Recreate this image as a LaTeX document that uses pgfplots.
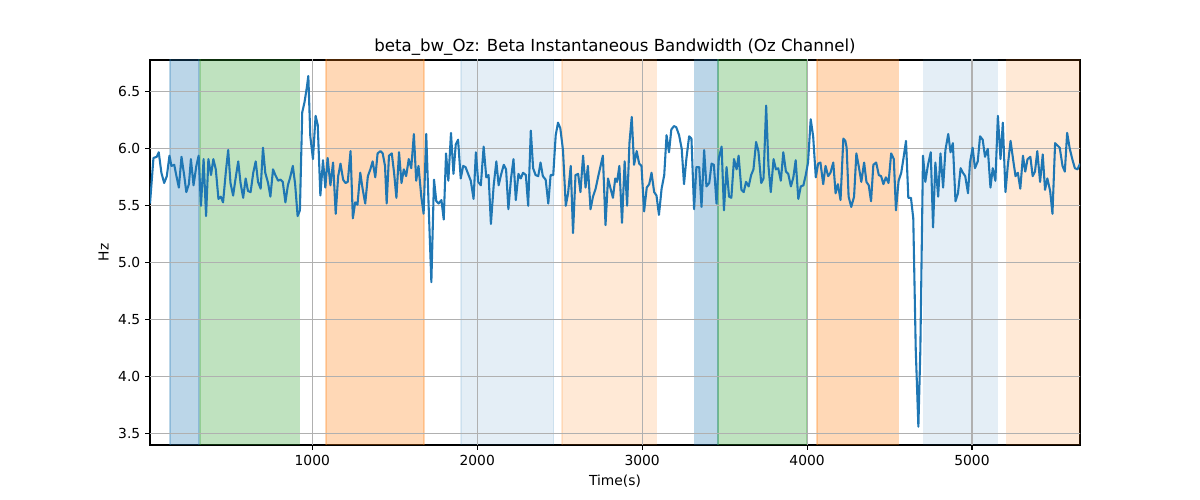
\documentclass[border=0pt]{standalone}
\usepackage{fontspec}
\setmainfont{DejaVu Sans}
\usepackage{pgfplots}
\pgfplotsset{compat=1.18}
\definecolor{tabblue}{HTML}{1F77B4}
\definecolor{taborange}{HTML}{FF7F0E}
\definecolor{tabgreen}{HTML}{2CA02C}
\definecolor{gridgray}{HTML}{B0B0B0}
\begin{document}
\fontsize{10}{12}\selectfont
\begin{tikzpicture}
\useasboundingbox (0,0) rectangle (864bp,360bp);
\begin{axis}[
  at={(108bp,39.6bp)}, anchor=south west,
  scale only axis, width=669.6bp, height=277.2bp,
  xmin=16, xmax=5655, ymin=3.4, ymax=6.78,
  xtick={1000,2000,3000,4000,5000},
  ytick={3.5,4.0,4.5,5.0,5.5,6.0,6.5},
  grid=major, major grid style={gridgray, line width=0.8bp},
  axis line style={line width=0.8bp},
  tick style={black, line width=0.8bp},
  tick align=outside, major tick length=3.5bp,
  tick pos=left,
  /pgf/number format/.cd, assume math mode=true, 1000 sep={}, /pgfplots/.cd,
  yticklabel style={/pgf/number format/fixed, /pgf/number format/fixed zerofill, /pgf/number format/precision=1},
  title={beta\_bw\_Oz: Beta Instantaneous Bandwidth (Oz Channel)},
  title style={font=\fontsize{12}{14}\selectfont, yshift=-6bp},
  xlabel={Time(s)}, ylabel={Hz},
  every axis plot/.append style={line join=round},
  span/.style={fill=#1, draw=#1, line width=1bp, forget plot},
  gl/.style={gridgray, line width=0.8bp, forget plot},
]
% shaded regions
\addplot[span=tabblue, fill opacity=0.3, draw opacity=0.3] coordinates {(138,3.2)(313,3.2)(313,7)(138,7)} -- cycle;
\addplot[span=tabgreen, fill opacity=0.3, draw opacity=0.3] coordinates {(319,3.2)(921,3.2)(921,7)(319,7)} -- cycle;
\addplot[span=taborange, fill opacity=0.3, draw opacity=0.3] coordinates {(1083,3.2)(1677,3.2)(1677,7)(1083,7)} -- cycle;
\addplot[span=tabblue, fill opacity=0.12, draw opacity=0.12] coordinates {(1901,3.2)(2463,3.2)(2463,7)(1901,7)} -- cycle;
\addplot[span=taborange, fill opacity=0.17, draw opacity=0.17] coordinates {(2513,3.2)(3087,3.2)(3087,7)(2513,7)} -- cycle;
\addplot[span=tabblue, fill opacity=0.3, draw opacity=0.3] coordinates {(3319,3.2)(3461,3.2)(3461,7)(3319,7)} -- cycle;
\addplot[span=tabgreen, fill opacity=0.3, draw opacity=0.3] coordinates {(3461,3.2)(4000,3.2)(4000,7)(3461,7)} -- cycle;
\addplot[span=taborange, fill opacity=0.3, draw opacity=0.3] coordinates {(4061,3.2)(4554,3.2)(4554,7)(4061,7)} -- cycle;
\addplot[span=tabblue, fill opacity=0.12, draw opacity=0.12] coordinates {(4707,3.2)(5154,3.2)(5154,7)(4707,7)} -- cycle;
\addplot[span=taborange, fill opacity=0.17, draw opacity=0.17] coordinates {(5210,3.2)(5800,3.2)(5800,7)(5210,7)} -- cycle;
% grid lines above the shaded regions
\addplot[gl] coordinates {(1000,3.2)(1000,7)};
\addplot[gl] coordinates {(2000,3.2)(2000,7)};
\addplot[gl] coordinates {(3000,3.2)(3000,7)};
\addplot[gl] coordinates {(4000,3.2)(4000,7)};
\addplot[gl] coordinates {(5000,3.2)(5000,7)};
\addplot[gl] coordinates {(0,3.5)(5800,3.5)};
\addplot[gl] coordinates {(0,4.0)(5800,4.0)};
\addplot[gl] coordinates {(0,4.5)(5800,4.5)};
\addplot[gl] coordinates {(0,5.0)(5800,5.0)};
\addplot[gl] coordinates {(0,5.5)(5800,5.5)};
\addplot[gl] coordinates {(0,6.0)(5800,6.0)};
\addplot[gl] coordinates {(0,6.5)(5800,6.5)};
% signal
\addplot[tabblue, line width=1.5bp, mark=none] coordinates {
(16,5.52)(37,5.92)(57,5.93)(69,5.97)(85,5.79)(102,5.70)(118,5.76)(134,5.94)(146,5.85)(163,5.86)(175,5.77)(191,5.66)(207,5.93)(224,5.76)(236,5.62)(252,5.69)(264,5.91)(280,5.68)(297,5.85)(311,5.94)(325,5.50)(341,5.91)(356,5.41)(370,5.91)(386,5.77)(400,5.91)(415,5.82)(431,5.56)(445,5.58)(459,5.53)(476,5.80)(490,5.99)(504,5.70)(520,5.59)(537,5.76)(551,5.89)(565,5.70)(581,5.57)(596,5.74)(610,5.63)(626,5.62)(642,5.79)(657,5.89)(671,5.71)(687,5.65)(701,6.01)(715,5.79)(732,5.70)(746,5.58)(762,5.82)(776,5.77)(793,5.72)(807,5.73)(821,5.71)(837,5.53)(852,5.68)(866,5.75)(882,5.85)(896,5.69)(911,5.41)(925,5.46)(939,6.32)(953,6.41)(967,6.54)(976,6.64)(988,6.11)(1004,5.91)(1020,6.29)(1033,6.21)(1049,5.59)(1065,5.90)(1079,5.66)(1093,5.92)(1110,5.68)(1126,5.88)(1142,5.43)(1157,5.76)(1171,5.87)(1187,5.73)(1201,5.70)(1215,5.71)(1232,5.98)(1246,5.39)(1260,5.53)(1274,5.51)(1291,5.79)(1305,5.65)(1321,5.52)(1337,5.76)(1352,5.82)(1366,5.89)(1382,5.75)(1396,5.96)(1413,5.98)(1427,5.96)(1441,5.85)
(1451,5.52)(1465,5.94)(1482,5.96)(1496,5.79)(1510,5.57)(1526,5.97)(1541,5.70)(1555,5.82)(1569,5.76)(1585,5.91)(1600,5.83)(1616,6.13)(1630,5.72)(1644,5.85)(1661,5.58)(1675,5.43)(1691,6.13)(1705,5.52)(1722,4.83)(1738,5.73)(1752,5.54)(1766,5.52)(1783,5.55)(1797,5.38)(1811,5.96)(1825,5.72)(1841,6.14)(1856,5.78)(1870,6.04)(1884,6.08)(1900,5.74)(1915,5.85)(1929,5.84)(1945,5.78)(1961,5.72)(1978,5.56)(1992,5.97)(2006,5.71)(2022,5.68)(2039,6.02)(2055,5.75)(2069,5.77)(2083,5.34)(2100,5.68)(2116,5.89)(2130,5.68)(2144,5.77)(2161,5.86)(2175,5.82)(2189,5.47)(2205,5.74)(2220,5.91)(2234,5.55)(2250,5.78)(2264,5.74)(2278,5.79)(2295,5.77)(2309,5.50)(2325,6.16)(2339,5.83)(2354,5.77)(2370,5.76)(2384,5.88)(2398,5.76)(2415,5.73)(2431,5.52)(2445,5.77)(2461,5.77)(2476,6.12)(2490,6.23)(2504,6.18)(2520,5.99)(2537,5.50)(2551,5.61)(2567,5.85)(2581,5.26)(2596,5.77)(2612,5.78)(2626,5.62)(2642,5.94)(2657,5.66)(2671,5.85)(2687,5.47)(2702,5.58)(2718,5.65)(2734,5.76)(2748,5.85)(2762,5.94)(2778,5.33)(2793,5.74)(2807,5.66)(2823,5.57)(2837,5.74)
(2848,5.71)(2862,5.85)(2878,5.35)(2894,5.89)(2909,5.50)(2923,6.05)(2937,6.28)(2951,5.86)(2967,5.98)(2982,5.87)(2996,5.85)(3012,5.45)(3028,5.66)(3043,5.69)(3057,5.79)(3073,5.62)(3087,5.59)(3102,5.42)(3118,5.65)(3134,5.77)(3148,6.12)(3163,5.97)(3177,6.17)(3193,6.20)(3207,6.19)(3224,6.12)(3240,6.00)(3254,5.69)(3268,5.91)(3285,6.11)(3299,6.09)(3315,5.47)(3329,5.84)(3346,5.84)(3360,5.49)(3376,5.99)(3390,5.67)(3407,5.70)(3421,5.87)(3435,5.86)(3451,5.52)(3465,5.92)(3482,6.02)(3496,5.46)(3512,5.84)(3527,5.58)(3541,5.57)(3557,5.91)(3573,5.82)(3585,5.94)(3602,5.64)(3616,5.62)(3630,5.71)(3646,5.67)(3661,5.77)(3675,5.82)(3691,6.06)(3705,5.98)(3722,5.70)(3736,5.74)(3752,6.38)(3766,5.85)(3780,5.62)(3797,5.91)(3811,5.82)(3825,5.83)(3841,5.72)(3856,5.97)(3872,5.80)(3886,5.78)(3902,5.67)(3917,5.75)(3931,5.90)(3947,5.56)(3962,5.67)(3978,5.68)(3992,5.77)(4006,5.88)(4022,6.26)(4037,6.11)(4053,5.75)(4067,5.87)(4081,5.88)(4098,5.69)(4112,5.85)(4128,5.76)(4142,5.79)(4159,5.88)(4173,5.61)(4187,5.69)(4203,5.55)(4220,6.09)(4232,6.07)
(4240,6.01)(4252,5.58)(4268,5.49)(4285,5.58)(4299,5.96)(4313,5.85)(4329,5.71)(4346,5.88)(4360,5.71)(4374,5.68)(4388,5.54)(4402,5.86)(4419,5.88)(4435,5.77)(4449,5.76)(4463,5.69)(4478,5.75)(4494,5.70)(4510,5.96)(4526,5.91)(4539,5.46)(4555,5.72)(4571,5.79)(4585,5.92)(4600,6.07)(4614,5.57)(4630,5.57)(4644,5.39)(4659,4.24)(4675,3.56)(4687,4.24)(4703,5.94)(4717,5.71)(4732,5.85)(4750,5.97)(4764,5.31)(4778,5.88)(4795,5.58)(4809,5.96)(4825,5.66)(4839,5.99)(4856,6.13)(4870,5.97)(4884,6.05)(4900,5.54)(4915,5.61)(4931,5.83)(4945,5.79)(4959,5.76)(4976,5.61)(4988,5.88)(5004,6.01)(5018,5.83)(5035,5.89)(5049,6.11)(5065,6.08)(5079,5.93)(5096,6.00)(5112,5.66)(5126,5.83)(5142,5.72)(5157,6.29)(5173,5.91)(5187,6.23)(5203,5.62)(5217,5.85)(5234,6.07)(5250,5.90)(5264,5.76)(5278,5.79)(5293,5.65)(5309,5.94)(5323,5.80)(5337,5.91)(5354,5.93)(5368,5.76)(5382,5.80)(5396,5.98)(5413,5.71)(5429,5.95)(5443,5.64)(5457,5.74)(5474,5.63)(5488,5.43)(5504,6.05)(5518,6.03)(5532,6.01)(5549,5.85)(5563,5.80)(5577,6.14)(5593,6.00)(5610,5.90)(5624,5.83)(5640,5.82)(5655,5.87)
};
\end{axis}
\end{tikzpicture}
\end{document}
